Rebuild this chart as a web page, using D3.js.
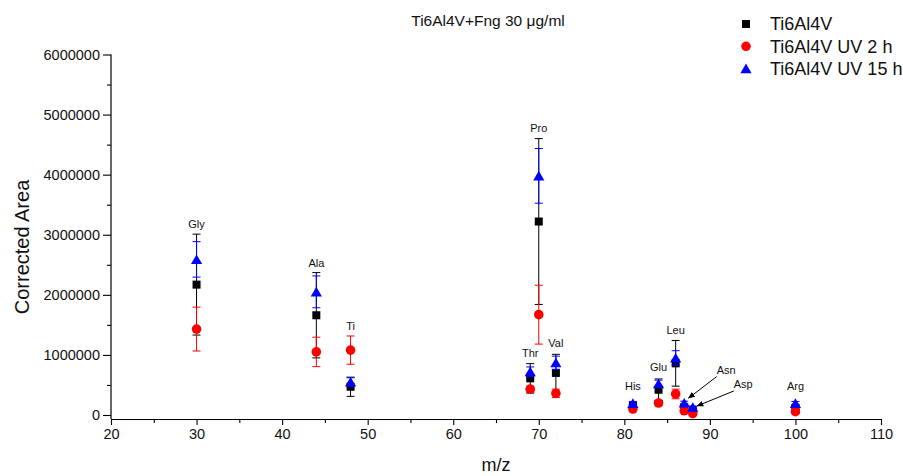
<!DOCTYPE html>
<html>
<head>
<meta charset="utf-8">
<script src="https://cdn.jsdelivr.net/npm/d3@7"></script>
<style>
  html, body { margin: 0; padding: 0; background: #fff; }
  svg { display: block; font-family: Arial, "Liberation Sans", sans-serif; }
</style>
</head>
<body>
<svg id="chart" width="903" height="476"></svg>
<script>
// Amino acid fragments, m/z and corrected peak areas
const aminoAcids = ["Gly", "Ala", "Ti", "Thr", "Pro", "Val", "His", "Glu", "Leu", "Asn", "Asp", "Arg"];
const mz         = [30, 44, 48, 69, 70, 72, 81, 84, 86, 87, 88, 100];

const areaBare   = [2170000, 1660000, 470000, 610000, 3220000, 700000, 155000, 420000, 860000, 130000, 80000, 120000];
const errBare    = [840000, 710000, 160000, 245000, 1380000, 310000, 30000, 180000, 380000, 30000, 30000, 30000];

const areaUV2    = [1430000, 1050000, 1080000, 430000, 1670000, 360000, 100000, 200000, 350000, 70000, 25000, 55000];
const errUV2     = [365000, 245000, 235000, 50000, 490000, 70000, 30000, 40000, 80000, 30000, 25000, 30000];

const areaUV15   = [2590000, 2050000, 550000, 720000, 3980000, 870000, 195000, 520000, 950000, 200000, 130000, 195000];
const errUV15    = [295000, 265000, 70000, 80000, 455000, 110000, 30000, 60000, 120000, 30000, 20000, 30000];

// Label anchor positions (m/z, area)
const labelX     = [30, 44, 48, 69, 70, 72, 81, 84, 86, 91.9, 93.9, 100];
const labelY     = [3170000, 2520000, 1480000, 1030000, 4770000, 1190000, 480000, 790000, 1410000, 750000, 520000, 480000];

// Arrows for the crowded labels: [fromX, fromY, toX, toY]
const arrowFrom  = ["Asn", "Asp"];
const arrowCoords = [[90.8, 640000, 87.5, 280000], [92.8, 400000, 88.5, 150000]];

const seriesNames = ["Ti6Al4V", "Ti6Al4V UV 2 h", "Ti6Al4V UV 15 h"];
const xTicks = [20, 30, 40, 50, 60, 70, 80, 90, 100, 110];
const yTicks = [0, 1000000, 2000000, 3000000, 4000000, 5000000, 6000000];

const series = [
  { name: seriesNames[0], values: areaBare, errors: errBare, color: "#000000", shape: "square" },
  { name: seriesNames[1], values: areaUV2, errors: errUV2, color: "#ff0000", shape: "circle" },
  { name: seriesNames[2], values: areaUV15, errors: errUV15, color: "#0000ff", shape: "triangle" }
];

const svg = d3.select("#chart");
const x = d3.scaleLinear().domain([20, 110]).range([111, 881]);
const y = d3.scaleLinear().domain([0, 6000000]).range([415, 54.5]);
const axisY = 419;

// Axes
const gx = svg.append("g").attr("transform", `translate(0,${axisY})`);
gx.call(d3.axisBottom(x).tickValues(xTicks).tickSize(6).tickSizeOuter(0).tickPadding(4).tickFormat(d3.format("d")));
gx.append("g").call(d3.axisBottom(x).tickValues(d3.range(25, 110, 10)).tickSize(4).tickFormat(""))
  .select(".domain").remove();

const gy = svg.append("g").attr("transform", `translate(${x(20)},0)`);
gy.call(d3.axisLeft(y).tickValues(yTicks).tickSize(8).tickSizeOuter(0).tickPadding(3).tickFormat(d3.format("d")));
gy.append("g").call(d3.axisLeft(y).tickValues(d3.range(500000, 6000000, 1000000)).tickSize(4).tickFormat(""))
  .select(".domain").remove();

svg.selectAll(".domain").attr("stroke", "#000").attr("stroke-width", 1.2);
svg.selectAll(".tick line").attr("stroke", "#000").attr("stroke-width", 1.1);
gx.selectAll(".tick text").attr("font-size", "14.5px").attr("fill", "#111").attr("font-family", "Arial, 'Liberation Sans', sans-serif");
gy.selectAll(".tick text").attr("font-size", "14.5px").attr("fill", "#111").attr("font-family", "Arial, 'Liberation Sans', sans-serif");

// Extend the y axis line down to meet the x axis
gy.select(".domain").attr("d", `M0,${y(6000000)}V${axisY}`);

// Axis titles and chart title
svg.append("text").attr("x", (x(20) + x(110)) / 2).attr("y", 471)
  .attr("text-anchor", "middle").attr("font-size", "18px").attr("fill", "#111").text("m/z");
svg.append("text").attr("transform", "translate(29,247) rotate(-90)")
  .attr("text-anchor", "middle").attr("font-size", "20px").attr("fill", "#111").text("Corrected Area");
svg.append("text").attr("x", 488).attr("y", 26)
  .attr("text-anchor", "middle").attr("font-size", "15.5px").attr("fill", "#111").text("Ti6Al4V+Fng 30 μg/ml");

// Marker shapes
function marker(sel, shape, color) {
  if (shape === "square") {
    sel.append("rect").attr("x", -4).attr("y", -4).attr("width", 8).attr("height", 8).attr("fill", color);
  } else if (shape === "circle") {
    sel.append("circle").attr("r", 4.8).attr("fill", color);
  } else {
    sel.append("path").attr("d", "M0,-5L5.6,4.6L-5.6,4.6Z").attr("fill", color);
  }
}

// Error bars and markers, one series at a time
const cap = 4;
series.forEach(s => {
  const g = svg.append("g");
  const pts = mz.map((m, i) => ({ m, v: s.values[i], e: s.errors[i] }));
  const eb = g.selectAll(".eb").data(pts).join("g");
  eb.append("line")
    .attr("x1", d => x(d.m)).attr("x2", d => x(d.m))
    .attr("y1", d => y(d.v + d.e)).attr("y2", d => y(d.v - d.e))
    .attr("stroke", s.color).attr("stroke-width", 1);
  eb.append("line")
    .attr("x1", d => x(d.m) - cap).attr("x2", d => x(d.m) + cap)
    .attr("y1", d => y(d.v + d.e)).attr("y2", d => y(d.v + d.e))
    .attr("stroke", s.color).attr("stroke-width", 1);
  eb.append("line")
    .attr("x1", d => x(d.m) - cap).attr("x2", d => x(d.m) + cap)
    .attr("y1", d => y(d.v - d.e)).attr("y2", d => y(d.v - d.e))
    .attr("stroke", s.color).attr("stroke-width", 1);
  g.selectAll(".pt").data(pts).join("g")
    .attr("transform", d => `translate(${x(d.m)},${y(d.v)})`)
    .each(function () { marker(d3.select(this), s.shape, s.color); });
});

// Amino acid labels
svg.append("g").selectAll("text").data(aminoAcids).join("text")
  .attr("x", (d, i) => x(labelX[i])).attr("y", (d, i) => y(labelY[i]))
  .attr("dy", "0.35em").attr("text-anchor", "middle")
  .attr("font-size", "11px").attr("fill", "#111").text(d => d);

// Arrows pointing from crowded labels to their points
const defs = svg.append("defs");
defs.append("marker").attr("id", "arrowhead").attr("viewBox", "0 0 10 10")
  .attr("refX", 9).attr("refY", 5).attr("markerWidth", 7).attr("markerHeight", 7)
  .attr("orient", "auto")
  .append("path").attr("d", "M0,1L10,5L0,9Z").attr("fill", "#000");
svg.append("g").selectAll("line").data(arrowCoords).join("line")
  .attr("x1", d => x(d[0])).attr("y1", d => y(d[1]))
  .attr("x2", d => x(d[2])).attr("y2", d => y(d[3]))
  .attr("stroke", "#000").attr("stroke-width", 1)
  .attr("marker-end", "url(#arrowhead)");

// Legend
const legend = svg.append("g");
series.forEach((s, i) => {
  const row = legend.append("g").attr("transform", `translate(746,${24 + i * 22.3})`);
  marker(row, s.shape, s.color);
  row.append("text").attr("x", 24).attr("dy", "0.36em")
    .attr("font-size", "18px").attr("fill", "#111").text(s.name);
});
</script>
</body>
</html>
